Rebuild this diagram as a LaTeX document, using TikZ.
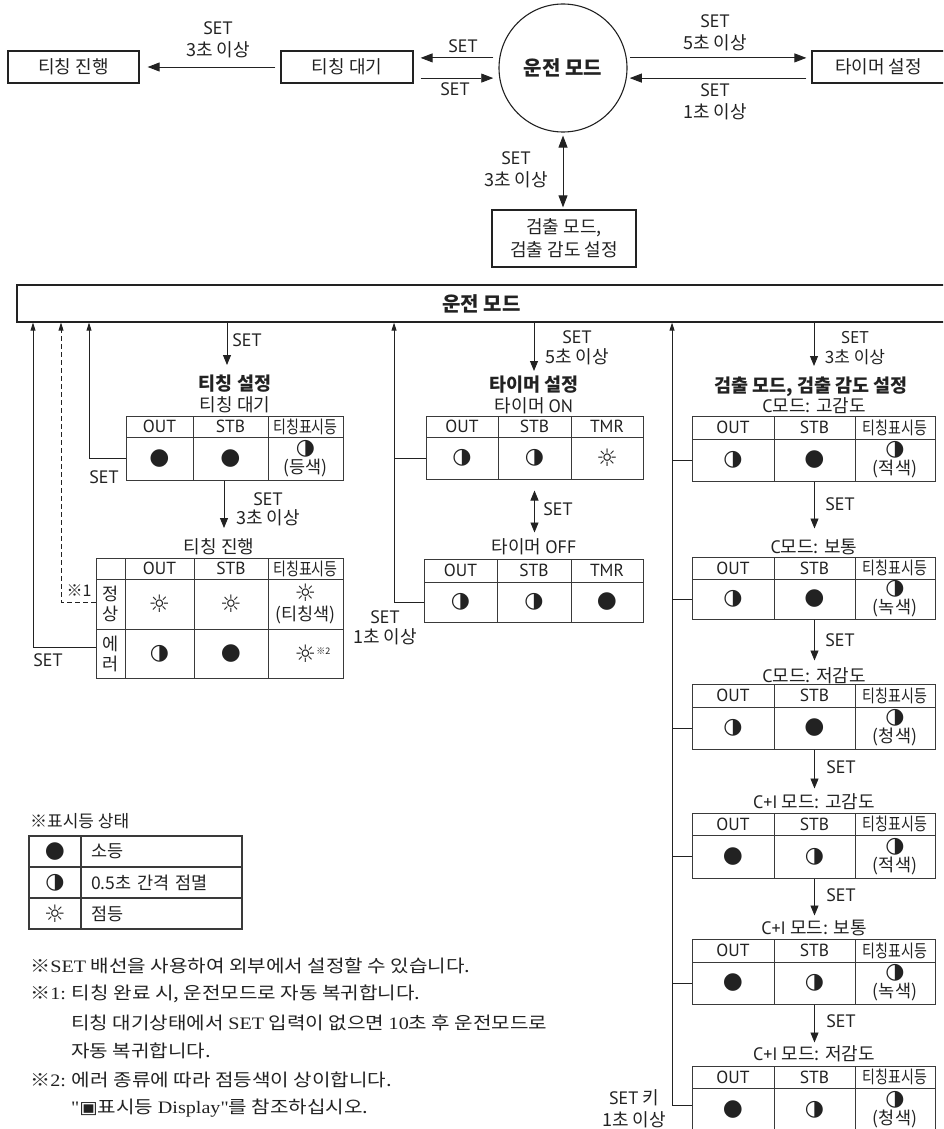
\documentclass[tikz,border=0pt]{standalone}
\usepackage{fontspec}
\usepackage{graphicx}
\setmainfont{Noto Sans CJK KR}
\newfontfamily\symf{DejaVu Sans}
\newfontfamily\LTf{PT Sans}
\newfontfamily\SRf{Liberation Serif}
\newcommand{\LT}[1]{{\LTf #1}}
\newcommand{\SR}[1]{{\SRf #1}}
\newcommand{\SET}{\LT{SET}}
\usetikzlibrary{arrows.meta,calc}
\definecolor{ink}{HTML}{222222}
\definecolor{rulec}{HTML}{3a3a3a}
\newcommand{\SymOff}{{\symf\fontsize{23}{23}\selectfont ●}}
\newcommand{\SymBlink}{{\symf\fontsize{22}{22}\selectfont ◑}}
\newcommand{\SymOn}{{\symf\fontsize{24}{24}\selectfont ☼}}
\newcommand{\tph}{\scalebox{0.8}[1]{티칭표시등}}
\newcommand{\NT}[1]{\scalebox{1.15}[1]{#1}}
\newcommand{\tabthree}[7]{%
 \node[cell, minimum width={\wa*1pt}, minimum height={\hh*1pt}] (#1h1) at ({#2+\wa/2},{#3+\hh/2}) {\LT{OUT}};
 \node[cell, minimum width={\wb*1pt}, minimum height={\hh*1pt}] (#1h2) at ({#2+\wa+\wb/2},{#3+\hh/2}) {\LT{STB}};
 \node[cell, minimum width={\wc*1pt}, minimum height={\hh*1pt}] (#1h3) at ({#2+\wa+\wb+\wc/2},{#3+\hh/2}) {#4};
 \node[cell, minimum width={\wa*1pt}, minimum height={\hd*1pt}] (#1d1) at ({#2+\wa/2},{#3+\hh+\hd/2}) {#5};
 \node[cell, minimum width={\wb*1pt}, minimum height={\hd*1pt}] (#1d2) at ({#2+\wa+\wb/2},{#3+\hh+\hd/2}) {#6};
 \node[cell, minimum width={\wc*1pt}, minimum height={\hd*1pt}] (#1d3) at ({#2+\wa+\wb+\wc/2},{#3+\hh+\hd/2}) {#7};
}
\tikzset{
 bigtip/.tip={Triangle[length=12pt,width=9pt]},
 midtip/.tip={Triangle[length=10pt,width=8pt]},
 smalltip/.tip={Triangle[length=8pt,width=5pt]},
 conn/.style={draw=ink, line width=0.9pt},
 arr/.style={conn, -midtip},
 uarr/.style={conn, -smalltip},
 box/.style={draw=ink, line width=1.3pt, inner sep=0pt, align=center, text=ink, font=\fontsize{18}{23}\selectfont},
 lbl/.style={inner sep=0pt, align=center, text=ink, font=\fontsize{18}{22}\selectfont},
 ttl/.style={inner sep=0pt, align=center, text=ink, font=\bfseries\fontsize{18.5}{20}\selectfont},
 cell/.style={draw=rulec, line width=1pt, inner sep=0pt, align=center, text=ink, font=\fontsize{17.5}{19}\selectfont},
 note/.style={inner sep=0pt, anchor=west, text=ink, font=\fontsize{17.5}{19}\selectfont},
}
\begin{document}
\begin{tikzpicture}[x=1pt,y=-1pt]
\useasboundingbox (0,0) rectangle (943,1129);
\clip (0,0) rectangle (943,1129);
% ---------- top overview ----------
\node[box, minimum width=131pt, minimum height=32pt] (tprog) at (73.5,67) {티칭 진행};
\node[box, minimum width=132pt, minimum height=32pt] (twait) at (347,67) {티칭 대기};
\node[circle, draw=ink, line width=1.1pt, minimum size=128pt, inner sep=0pt, text=ink, font=\bfseries\fontsize{20}{22}\selectfont] (run) at (563,68) {운전 모드};
\node[box, minimum width=133pt, minimum height=32pt] (tmr) at (878.5,67) {타이머 설정};
\node[box, minimum width=144pt, minimum height=57pt] (det) at (564,238.5) {검출 모드,\\검출 감도 설정};
\draw[conn, -bigtip, shorten <=5pt, shorten >=8pt] (twait.west) -- (tprog.east);
\draw[conn, -bigtip, shorten <=6pt, shorten >=7pt] (run.171) -- (twait.east |- run.171);
\draw[conn, -bigtip, shorten <=7pt, shorten >=6pt] (twait.east |- run.189) -- (run.189);
\draw[conn, -bigtip, shorten <=3pt, shorten >=5pt] (run.9) -- (tmr.west |- run.9);
\draw[conn, -bigtip, shorten <=5pt, shorten >=3pt] (tmr.west |- run.-9) -- (run.-9);
\draw[conn, bigtip-bigtip, shorten <=3pt, shorten >=2pt] (run.south) -- (run.south |- det.north);
\node[lbl] (l1) at (218,40) {\SET\\3초 이상};
\node[lbl] (l2) at (463,46) {\SET};
\node[lbl] (l3) at (455,89) {\SET};
\node[lbl] (l4) at (715,33) {\SET\\5초 이상};
\node[lbl] (l5) at (715,102) {\SET\\1초 이상};
\node[lbl] (l6) at (516,170) {\SET\\3초 이상};
% ---------- main bar ----------
\node[box, minimum width=929pt, minimum height=37pt, font=\bfseries\fontsize{20}{22}\selectfont] (run2) at (481.5,303.5) {운전 모드};
% ---------- teaching ----------
\coordinate (tsA) at (227,365);
\draw[arr] (run2.south -| tsA) -- (tsA);
\node[lbl] (tsl) at (247,340) {\SET};
\node[ttl] (tst) at (235,384) {티칭 설정};
\node[lbl] (tsw) at (235,405) {티칭 대기};
\def\wa{67}\def\wb{75}\def\wc{75}\def\hh{21}\def\hd{43}
\tabthree{TA}{126}{416}{\tph}{\SymOff}{\SymOff}{\SymBlink\\(등색)}
\coordinate (x89) at (89,0);
\draw[uarr] (TAd1.west) -| (run2.south -| x89);
\node[lbl] (setA) at (104,477) {\SET};
\coordinate (tpA) at (224,528);
\draw[arr] (TAd2.south -| tpA) -- (tpA);
\node[lbl, font=\fontsize{18}{19}\selectfont] (tpl) at (268,509.5) {\SET\\3초 이상};
\node[lbl] (tpt) at (219,547) {티칭 진행};
\node[cell, minimum width=29pt, minimum height=21pt] (TBh0) at (110.5,568.5) {};
\node[cell, minimum width=69pt, minimum height=21pt] (TBh1) at (159.5,568.5) {\LT{OUT}};
\node[cell, minimum width=74pt, minimum height=21pt] (TBh2) at (231,568.5) {\LT{STB}};
\node[cell, minimum width=75pt, minimum height=21pt] (TBh3) at (305.5,568.5) {\tph};
\node[cell, minimum width=29pt, minimum height=50pt, font=\fontsize{17.5}{20}\selectfont] (TBa0) at (110.5,604) {정\\상};
\node[cell, minimum width=69pt, minimum height=50pt] (TBa1) at (159.5,604) {\SymOn};
\node[cell, minimum width=74pt, minimum height=50pt] (TBa2) at (231,604) {\SymOn};
\node[cell, minimum width=75pt, minimum height=50pt] (TBa3) at (305.5,604) {\SymOn\\(티칭색)};
\node[cell, minimum width=29pt, minimum height=49pt, font=\fontsize{17.5}{20}\selectfont] (TBb0) at (110.5,653.5) {에\\러};
\node[cell, minimum width=69pt, minimum height=49pt] (TBb1) at (159.5,653.5) {\SymBlink};
\node[cell, minimum width=74pt, minimum height=49pt] (TBb2) at (231,653.5) {\SymOff};
\node[cell, minimum width=75pt, minimum height=49pt] (TBb3) at (305.5,653.5) {\SymOn\rlap{\raisebox{8pt}{\fontsize{9}{9}\selectfont ※2}}};
\coordinate (x61) at (61,0);
\draw[uarr, dash pattern=on 5pt off 3pt] ([yshift=2pt]TBa0.west) -| (run2.south -| x61);
\node[lbl, font=\fontsize{16}{18}\selectfont] (n1) at (79,591) {※1};
\coordinate (x33) at (33,0);
\draw[uarr] ([yshift=6pt]TBb0.west) -| (run2.south -| x33);
\node[lbl] (setB) at (48,660) {\SET};
% ---------- timer ----------
\coordinate (tmA) at (534,371);
\draw[arr] (run2.south -| tmA) -- (tmA);
\node[lbl, font=\fontsize{18}{20}\selectfont] (tml) at (577,348) {\SET\\5초 이상};
\node[ttl] (tmt) at (534,385) {타이머 설정};
\node[lbl] (tmon) at (534,406) {타이머 \LT{ON}};
\def\wa{72}\def\wb{73}\def\wc{72}\def\hh{21}\def\hd{42}
\tabthree{TC}{426}{416}{\LT{TMR}}{\SymBlink}{\SymBlink}{\SymOn}
\def\wa{73}\def\wb{74}\def\wc{72}\def\hh{23}\def\hd{40}
\tabthree{TD}{424}{559}{\LT{TMR}}{\SymBlink}{\SymBlink}{\SymOff}
\draw[conn, midtip-midtip, shorten <=11pt, shorten >=26pt] (TCd2.south) -- (TCd2.south |- TDh2.north);
\node[lbl] (tmset) at (558,509) {\SET};
\node[lbl] (toff) at (534,547) {타이머 \LT{OFF}};
\coordinate (x394) at (394,0);
\draw[conn] (TCd1.west) -- (TCd1.west -| x394);
\draw[uarr] (TDd1.west) -| (run2.south -| x394);
\node[lbl, font=\fontsize{18}{20}\selectfont] (tmback) at (385,628) {\SET\\1초 이상};
% ---------- detection ----------
\coordinate (dA) at (814,366);
\draw[arr] (run2.south -| dA) -- (dA);
\node[lbl, font=\fontsize{17}{19.5}\selectfont] (dl) at (855,348) {\SET\\3초 이상};
\node[ttl] (dt) at (811,387) {검출 모드, 검출 감도 설정};
\def\wa{82}\def\wb{81}\def\wc{80}
\node[lbl] (m1) at (814,406) {\LT{C}모드: 고감도};
\def\hh{23}\def\hd{42}
\tabthree{E1}{692}{416}{\tph}{\SymBlink}{\SymOff}{\SymBlink\\(적색)}
\node[lbl] (m2) at (814,547) {\LT{C}모드: 보통};
\def\hh{22}\def\hd{40}
\tabthree{E2}{692}{557}{\tph}{\SymBlink}{\SymOff}{\SymBlink\\(녹색)}
\node[lbl] (m3) at (814,676) {\LT{C}모드: 저감도};
\def\hh{23}\def\hd{42}
\tabthree{E3}{692}{684}{\tph}{\SymBlink}{\SymOff}{\SymBlink\\(청색)}
\node[lbl] (m4) at (814,802) {\LT{C+I} 모드: 고감도};
\def\hh{22}\def\hd{43}
\tabthree{E4}{692}{813}{\tph}{\SymOff}{\SymBlink}{\SymBlink\\(적색)}
\node[lbl] (m5) at (814,928) {\LT{C+I} 모드: 보통};
\def\hh{23}\def\hd{42}
\tabthree{E5}{692}{939}{\tph}{\SymOff}{\SymBlink}{\SymBlink\\(녹색)}
\node[lbl] (m6) at (814,1054) {\LT{C+I} 모드: 저감도};
\def\hh{22}\def\hd{43}
\tabthree{E6}{692}{1066}{\tph}{\SymOff}{\SymBlink}{\SymBlink\\(청색)}
\draw[arr] (E1d2.south) -- ++(0,47);
\draw[arr] (E2d2.south) -- ++(0,41);
\draw[arr] (E3d2.south) -- ++(0,39);
\draw[arr] (E4d2.south) -- ++(0,37);
\draw[arr] (E5d2.south) -- ++(0,38);
\node[lbl] (s1) at (840,504) {\SET};
\node[lbl] (s2) at (840,640) {\SET};
\node[lbl] (s3) at (841,767) {\SET};
\node[lbl] (s4) at (841,895) {\SET};
\node[lbl] (s5) at (841,1021) {\SET};
\coordinate (x672) at (672,0);
\foreach \t in {E1,E2,E3,E4,E5} {\draw[conn] (\t d1.west) -- (\t d1.west -| x672);}
\draw[uarr] ([yshift=4pt]E6d1.west) -| (run2.south -| x672);
\node[lbl] (setkey) at (634,1109) {\SET{} 키\\1초 이상};
% ---------- legend ----------
\node[note, font=\fontsize{17}{19}\selectfont] (lgt) at (30,821) {※표시등 상태};
\node[cell, line width=1.3pt, minimum width=52pt, minimum height=31pt] (L1a) at (55,851.5) {\SymOff};
\node[cell, line width=1.3pt, minimum width=52pt, minimum height=31pt] (L2a) at (55,882.5) {\SymBlink};
\node[cell, line width=1.3pt, minimum width=52pt, minimum height=31pt] (L3a) at (55,913.5) {\SymOn};
\node[cell, line width=1.3pt, minimum height=31pt, text width=141pt, inner xsep=10pt, align=left] (L1b) at (161.5,851.5) {소등};
\node[cell, line width=1.3pt, minimum height=31pt, text width=141pt, inner xsep=10pt, align=left] (L2b) at (161.5,882.5) {0.5초 간격 점멸};
\node[cell, line width=1.3pt, minimum height=31pt, text width=141pt, inner xsep=10pt, align=left] (L3b) at (161.5,913.5) {점등};
% ---------- notes ----------
\node[note] (nt1) at (30,966) {\NT{※\SR{SET} 배선을 사용하여 외부에서 설정할 수 있습니다.}};
\node[note] (nt2) at (30,994) {\NT{※\SR{1:} 티칭 완료 시, 운전모드로 자동 복귀합니다.}};
\node[note] (nt3) at (71,1023) {\NT{티칭 대기상태에서 \SR{SET} 입력이 없으면 \SR{10}초 후 운전모드로}};
\node[note] (nt4) at (71,1051) {\NT{자동 복귀합니다.}};
\node[note] (nt5) at (30,1080) {\NT{※\SR{2:} 에러 종류에 따라 점등색이 상이합니다.}};
\node[note] (nt6) at (71,1108) {\NT{\SR{"}{\symf\fontsize{17}{17}\selectfont ▣}표시등 \SR{Display"}를 참조하십시오.}};
\end{tikzpicture}
\end{document}
